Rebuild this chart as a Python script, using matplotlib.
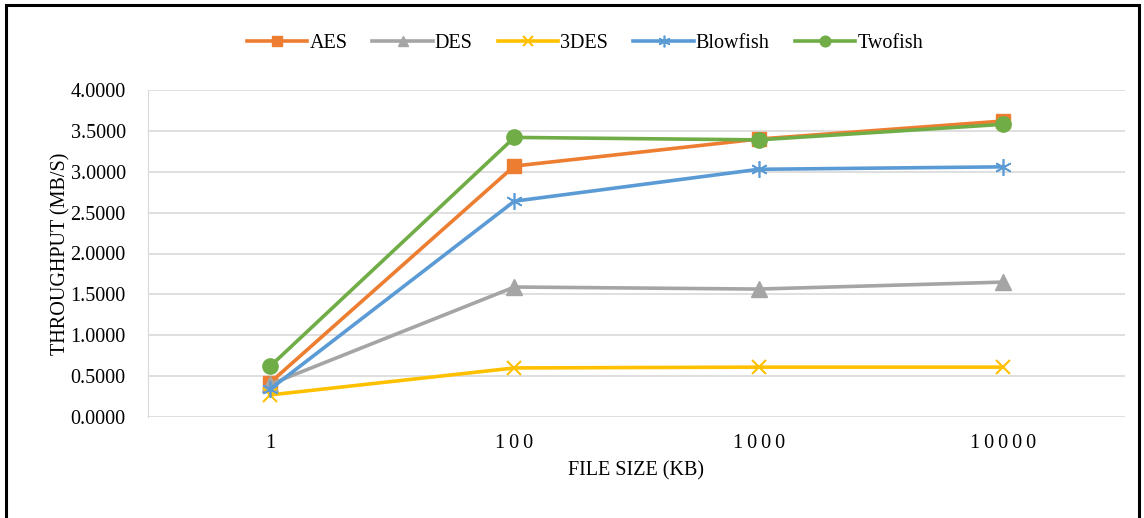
import matplotlib
matplotlib.use("Agg")
import matplotlib.pyplot as plt
from matplotlib.patches import Rectangle

categories = ["1", "100", "1000", "10000"]
aes = [0.42, 3.07, 3.40, 3.62]
des = [0.40, 1.59, 1.565, 1.65]
des3 = [0.27, 0.60, 0.61, 0.61]
blowfish = [0.34, 2.64, 3.03, 3.06]
twofish = [0.62, 3.42, 3.39, 3.58]
yticks = [0.0, 0.5, 1.0, 1.5, 2.0, 2.5, 3.0, 3.5, 4.0]

plt.rcParams['font.family'] = ['Liberation Serif', 'DejaVu Serif']

fig = plt.figure(figsize=(11.44, 5.18), dpi=100)
ax = fig.add_axes([148/1144, 1-417/518, (1125-148)/1144, (417-90)/518])

x = list(range(len(categories)))
series = [
    ("AES", aes, "#ED7D31", "s", 10, {}),
    ("DES", des, "#A5A5A5", "^", 11, {}),
    ("3DES", des3, "#FFC000", "x", 10, {"markeredgewidth": 1.5}),
    ("Blowfish", blowfish, "#5B9BD5", (6, 2, 0), 12, {"markeredgewidth": 1.2}),
    ("Twofish", twofish, "#70AD47", "o", 11, {}),
]
for name, vals, col, mk, ms, kw in series:
    ax.plot(x, vals, color=col, lw=2.6, marker=mk, markersize=ms,
            markerfacecolor=col, markeredgecolor=col, label=name, zorder=3, **kw)

ax.set_xlim(-0.5, len(categories) - 0.5)
ax.set_ylim(0, 4)
ax.set_yticks(yticks)
ax.set_yticklabels([f"{v:.4f}" for v in yticks])
ax.set_xticks(x)
ax.set_xticklabels(["\u2009".join(c) for c in categories])
ax.grid(axis='y', color='#D9D9D9', lw=1.2, zorder=0)
for s in ['top', 'right', 'bottom']:
    ax.spines[s].set_visible(False)
ax.spines['left'].set_color('#D9D9D9')
ax.tick_params(axis='both', length=0, labelsize=14.5, colors='black')
ax.tick_params(axis='x', pad=12)
ax.tick_params(axis='y', pad=16)
ax.set_xlabel("FILE SIZE (KB)", fontsize=14.5, labelpad=6)
ax.set_ylabel("THROUGHPUT (MB/S)", fontsize=14.5, labelpad=0)

leg = fig.legend(loc='center', bbox_to_anchor=(585/1144, 1-43/518), ncol=5,
                 frameon=False, fontsize=14.5, handlelength=3.0, columnspacing=1.25,
                 handletextpad=0.1, markerscale=0.7)

fig.patches.append(Rectangle((6/1144, -0.1), (1139-6)/1144, 1-5/518+0.1,
                             transform=fig.transFigure, fill=False,
                             edgecolor='black', lw=2.2))

fig.savefig("out.png", dpi=100)
